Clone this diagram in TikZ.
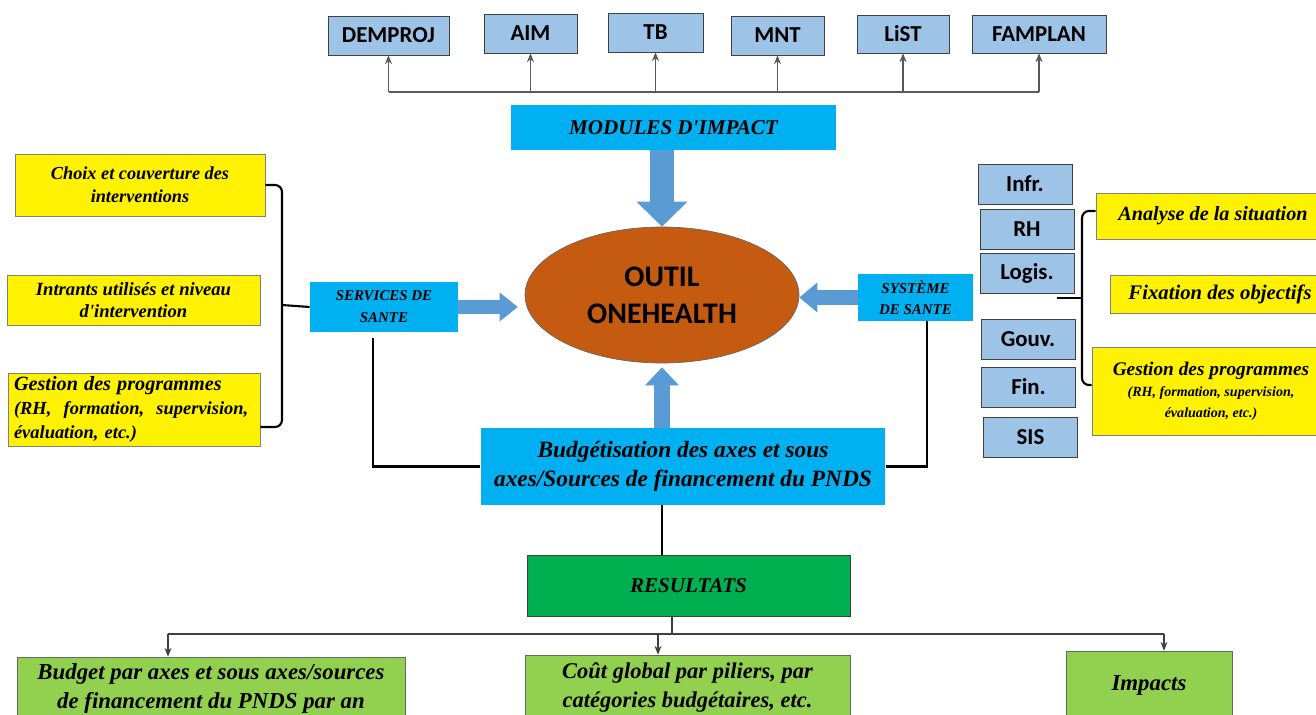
\documentclass[tikz,border=0pt]{standalone}
\usepackage{fontspec}
\setmainfont{Carlito}
\newfontfamily\handfont{Liberation Serif}
\usetikzlibrary{arrows.meta,shapes.geometric}
\definecolor{modblue}{HTML}{9DC3E6}
\definecolor{skyblue}{HTML}{00B0F0}
\definecolor{arrowblue}{HTML}{5B9BD5}
\definecolor{rust}{HTML}{C55A11}
\definecolor{darkgreen}{HTML}{00B050}
\definecolor{lightgreen}{HTML}{92D050}
\tikzset{
    module/.style={
    rectangle,draw=black!75,fill=modblue,minimum height=0.78cm,inner sep=0pt,font=\bfseries\fontsize{13}{15}\selectfont
    },
    pillar/.style={
    module,minimum width=1.88cm,minimum height=0.8cm
    },
    sky/.style={
    rectangle,fill=skyblue,inner sep=0pt,align=center,font=\handfont\bfseries\itshape
    },
    note/.style={
    rectangle,draw=black!50,fill=yellow,inner sep=0pt,align=center,font=\handfont\bfseries\itshape
    },
    result/.style={
    rectangle,draw=black!75,fill=darkgreen,inner sep=0pt,font=\handfont\bfseries\itshape\fontsize{12}{14}\selectfont
    },
    outcome/.style={
    rectangle,draw=black!60,fill=lightgreen,inner sep=0pt,align=center,font=\handfont\bfseries\itshape\fontsize{13}{16.5}\selectfont
    },
    tip/.style={
    draw=black!65,line width=0.6pt,-{Stealth[length=5pt,width=4pt]}
    },
    link/.style={
    draw=black,line width=1.2pt
    },
}

\begin{document}
\begin{tikzpicture}[x=0.02cm,y=-0.02cm]
   \useasboundingbox (0,0) rectangle (1316,714);
   \clip (0,0) rectangle (1316,714);

   \node[module,minimum width=2.42cm] (demproj) at (388.5,35.5) {DEMPROJ};
   \node[module,minimum width=1.86cm] (aim) at (530.5,33.5) {AIM};
   \node[module,minimum width=1.90cm] (tb) at (655.5,32.5) {TB};
   \node[module,minimum width=1.86cm] (mnt) at (777.5,35.5) {MNT};
   \node[module,minimum width=1.84cm,minimum height=0.76cm] (list) at (903,34) {LiST};
   \node[module,minimum width=2.68cm,minimum height=0.76cm] (famplan) at (1039,34) {FAMPLAN};
   \coordinate (bus) at (0,92);

   \node[sky,minimum width=6.5cm,minimum height=0.9cm,font=\handfont\bfseries\itshape\fontsize{12}{14}\selectfont] (modules) at (673.5,127.5) {MODULES D'IMPACT};
   \node[ellipse,draw=black!60,fill=rust,minimum width=5.48cm,minimum height=2.72cm,inner sep=0pt,align=center,font=\bfseries\fontsize{17}{21}\selectfont] (outil) at (662,295) {OUTIL\\ONEHEALTH};
   \node[sky,minimum width=2.96cm,minimum height=1.0cm,font=\handfont\bfseries\itshape\fontsize{8.5}{12.5}\selectfont] (services) at (384,307) {SERVICES DE\\SANTE};
   \node[sky,minimum width=2.3cm,minimum height=0.94cm,font=\handfont\bfseries\itshape\fontsize{8.5}{12}\selectfont] (systeme) at (915.5,297.5) {SYSTÈME\\DE SANTE};
   \node[sky,minimum width=8.1cm,minimum height=1.54cm,font=\handfont\bfseries\itshape\fontsize{13.3}{16.5}\selectfont] (budget) at (683,466.5) {Budgétisation des axes et sous\\axes/Sources de financement du PNDS};
   \node[result,minimum width=6.46cm,minimum height=1.22cm] (resultats) at (688.5,585.5) {RESULTATS};
   \coordinate (split) at (672,634);

   \node[outcome,minimum width=7.76cm,minimum height=1.26cm] (budgetan) at (211,688.5) {Budget par axes et sous axes/sources\\de financement du PNDS par an};
   \node[outcome,minimum width=6.5cm,minimum height=1.3cm,font=\handfont\bfseries\itshape\fontsize{12.8}{16.5}\selectfont] (cout) at (687.5,687.5) {Coût global par piliers, par\\catégories budgétaires, etc.};
   \node[outcome,minimum width=3.32cm,minimum height=1.38cm,font=\handfont\bfseries\itshape\fontsize{13}{16}\selectfont] (impacts) at (1149,685.5) {Impacts};

   \node[note,minimum width=5.0cm,minimum height=1.24cm,font=\handfont\bfseries\itshape\fontsize{10.4}{13}\selectfont] (choix) at (140,185) {Choix et couverture des\\interventions};
   \node[note,minimum width=5.06cm,minimum height=1.0cm,font=\handfont\bfseries\itshape\fontsize{10.6}{12.5}\selectfont] (intrants) at (133.5,300) {Intrants utilisés et niveau\\d'intervention};
   \node[note,minimum width=5.04cm,minimum height=1.46cm,align=left,text width=4.8cm,font=\handfont\bfseries\itshape\fontsize{10.5}{13.5}\selectfont] (gestionL) at (134,409.5) {{\fontsize{11.5}{13.5}\selectfont Gestion des programmes}\\(RH,~ formation,~ supervision,\\évaluation, etc.)};
   \coordinate (lbr) at (282,305);

   \node[pillar] (infr) at (1025,184) {Infr.};
   \node[pillar] (rh) at (1027,229) {RH};
   \node[pillar] (logis) at (1027,273) {Logis.};
   \node[pillar] (gouv) at (1028,339.5) {Gouv.};
   \node[pillar] (fin) at (1028.5,387) {Fin.};
   \node[pillar] (sis) at (1030.5,437.5) {SIS};

   \node[note,minimum width=4.68cm,minimum height=0.92cm,font=\handfont\bfseries\itshape\fontsize{11.5}{13}\selectfont] (analyse) at (1213,216) {Analyse de la situation};
   \node[note,minimum width=4.4cm,minimum height=0.76cm,font=\handfont\bfseries\itshape\fontsize{11.8}{13}\selectfont] (fixation) at (1220,294) {Fixation des objectifs};
   \node[note,minimum width=4.76cm,minimum height=1.76cm,font=\handfont\bfseries\itshape\fontsize{8}{12}\selectfont] (gestionR) at (1211,391) {{\fontsize{11}{13}\selectfont Gestion des programmes}\\(RH, formation, supervision,\\évaluation, etc.)};
   \coordinate (rbr) at (1082,298);
   \coordinate (rtip) at (1057,298);

   \draw[draw=black!65,line width=0.6pt] (demproj.south |- bus) -- (famplan.south |- bus);
   \foreach \m in {demproj,aim,tb,mnt,list,famplan}
     \draw[tip] (\m.south |- bus) -- (\m.south);

   \draw[arrowblue,line width=0.48cm,-{Triangle[width=1.02cm,length=0.5cm,line width=0pt]}] (outil.north |- modules.south) -- (outil.north);
   \draw[arrowblue,line width=0.28cm,shorten >=0.14cm,-{Triangle[width=0.58cm,length=0.36cm,line width=0pt]}] (services.east) -- (services.east -| outil.west);
   \draw[arrowblue,line width=0.3cm,-{Triangle[width=0.6cm,length=0.36cm,line width=0pt]}] (systeme.west) -- (systeme.west -| outil.east);
   \draw[arrowblue,line width=0.32cm,shorten >=0.08cm,-{Triangle[width=0.68cm,length=0.36cm,line width=0pt]}] (outil.south |- budget.north) -- (outil.south);

   \draw[link] ([xshift=-0.22cm,yshift=-0.12cm]services.south) |- (budget.west);
   \draw[link] ([xshift=0.23cm]systeme.south) |- (budget.east);
   \draw[link] (outil.south |- budget.south) -- (outil.south |- resultats.north);

   \draw[link,rounded corners=4pt] (choix.east) -| (lbr) |- ([yshift=-0.35cm]gestionL.east);
   \draw[link] (lbr) -- (services.west);
   \draw[link,rounded corners=4pt] ([yshift=0.1cm]analyse.west) -| (rbr) |- ([yshift=0.12cm]gestionR.west);
   \draw[link] (rbr) -- (rtip);

   \draw[draw=black!75,line width=0.9pt] (resultats.south -| split) -- (split);
   \draw[draw=black!75,line width=0.9pt] ([xshift=-0.86cm]budgetan.north |- split) -- ([xshift=0.3cm]impacts.north |- split);
   \draw[tip,draw=black!75] ([xshift=-0.86cm]budgetan.north |- split) -- ([xshift=-0.86cm]budgetan.north);
   \draw[tip,draw=black!75] ([xshift=-0.59cm]cout.north |- split) -- ([xshift=-0.59cm]cout.north);
   \draw[tip,draw=black!75] ([xshift=0.3cm]impacts.north |- split) -- ([xshift=0.3cm]impacts.north);
\end{tikzpicture}
\end{document}
